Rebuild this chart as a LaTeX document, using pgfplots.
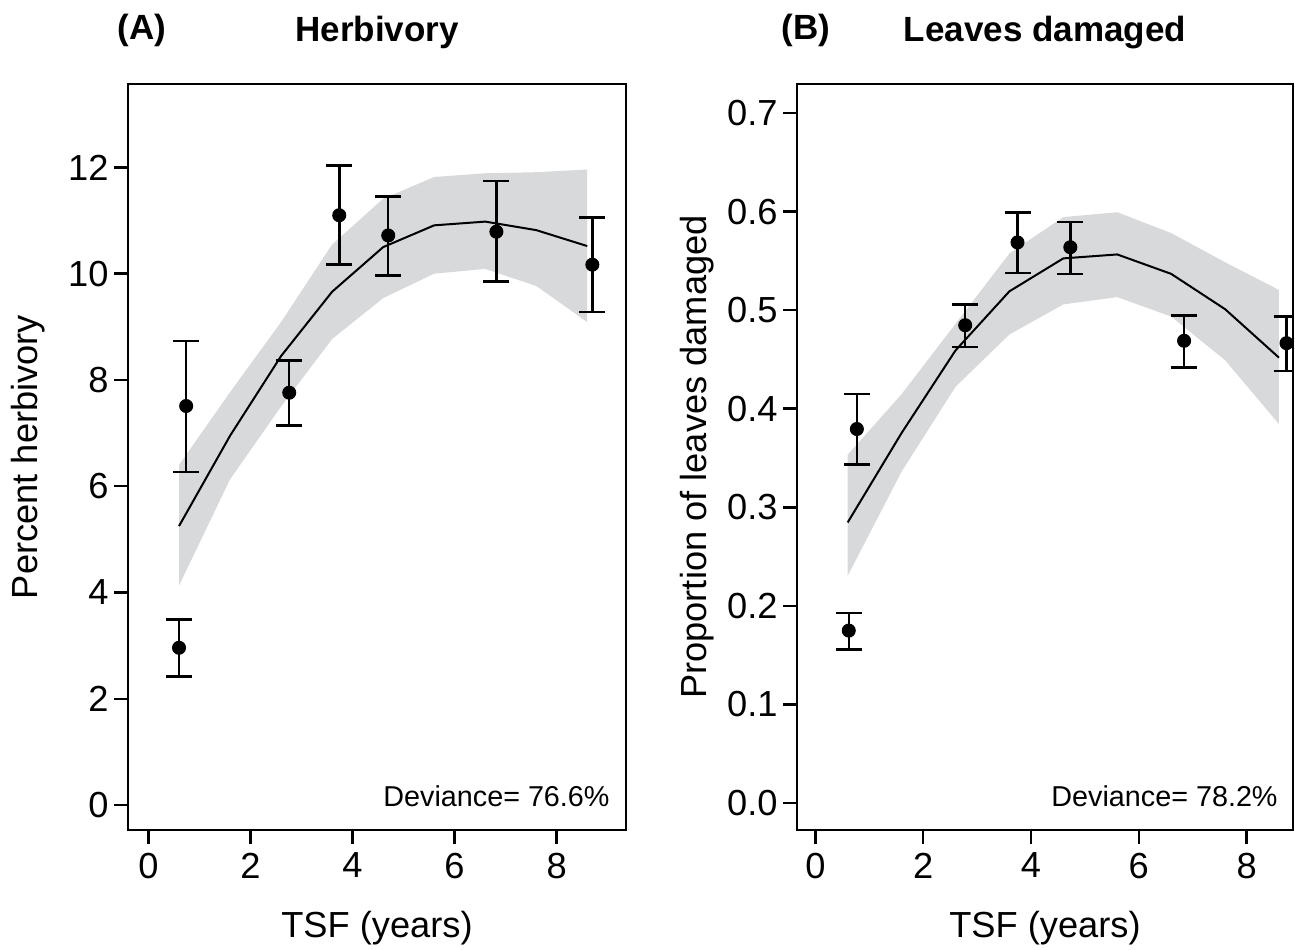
\documentclass[border=0pt]{standalone}
\usepackage{fontspec}
\setmainfont{Liberation Sans}
\usepackage{pgfplots}
\pgfplotsset{compat=1.18}
\definecolor{band}{RGB}{216,217,219}

\pgfplotsset{
  rstyle/.style={
    scale only axis,
    clip mode=individual,
    axis line style={line width=1pt},
    tick align=outside,
    major tick length=5.6pt,
    tick style={line width=1pt, black},
    xtick pos=left, ytick pos=left,
    tick label style={font=\fontsize{14.5}{17}\selectfont},
    yticklabel style={inner sep=2pt},
    label style={font=\fontsize{14.5}{17}\selectfont},
    /pgf/number format/assume math mode=true,
    xtick={0,2,4,6,8},
    xlabel={TSF (years)},
    xlabel style={at={(axis description cs:0.5,-0.1314)}, anchor=center},
  },
  ptstyle/.style={only marks, mark=*, mark size=2.6pt, black, mark options={fill=black},
    error bars/.cd, y dir=both, y explicit,
    error bar style={line width=1pt, black},
    error mark options={rotate=90, mark size=5.2pt, line width=1pt, black}},
}

% confidence band polygons (upper forward, lower backward)
\pgfplotstableread{
x    y
0.6  6.40
1.6  7.77
2.6  9.09
3.6  10.55
4.6  11.41
5.6  11.82
6.6  11.89
7.6  11.91
8.6  11.96
8.6  9.09
7.6  9.77
6.6  10.09
5.6  10.00
4.6  9.54
3.6  8.77
2.6  7.50
1.6  6.13
0.6  4.13
}\bandA
\pgfplotstableread{
x    y
0.6  5.25
1.6  6.95
2.6  8.45
3.6  9.66
4.6  10.50
5.6  10.91
6.6  10.98
7.6  10.82
8.6  10.52
}\fitA
\pgfplotstableread{
x     y      ep    em
0.60  2.96   0.53  0.54
0.74  7.51   1.22  1.24
2.76  7.76   0.61  0.62
3.74  11.10  0.94  0.93
4.70  10.72  0.73  0.75
6.82  10.79  0.95  0.94
8.70  10.17  0.89  0.89
}\ptsA
\pgfplotstableread{
x    y
0.6  0.3533
1.6  0.4148
2.6  0.4861
3.6  0.5575
4.6  0.5944
5.6  0.5993
6.6  0.5782
7.6  0.5486
8.6  0.5205
8.6  0.3844
7.6  0.4493
6.6  0.4935
5.6  0.5132
4.6  0.5058
3.6  0.4753
2.6  0.4222
1.6  0.3362
0.6  0.2305
}\bandB
\pgfplotstableread{
x    y
0.6  0.2846
1.6  0.3754
2.6  0.4591
3.6  0.5191
4.6  0.5525
5.6  0.5565
6.6  0.5368
7.6  0.5010
8.6  0.4518
}\fitB
\pgfplotstableread{
x     y       ep      em
0.62  0.1749  0.0177  0.0192
0.77  0.3794  0.0354  0.0359
2.78  0.4847  0.0211  0.0222
3.75  0.5687  0.0306  0.0309
4.73  0.5638  0.0256  0.0270
6.84  0.4689  0.0257  0.0270
8.74  0.4665  0.0270  0.0280
}\ptsB

\begin{document}
\begin{tikzpicture}

\begin{axis}[rstyle,
  at={(51.2pt,-332pt)}, anchor=south west,
  width=199.2pt, height=298.4pt,
  xmin=-0.40, xmax=9.36, ymin=-0.47, ymax=13.57,
  ytick={0,2,4,6,8,10,12},
  ylabel={Percent herbivory},
  ylabel style={at={(axis description cs:-0.2008,0.5)}, anchor=center},
]
\addplot[fill=band, draw=none] table {\bandA} -- cycle;
\addplot[black, line width=0.8pt] table {\fitA};
\addplot[ptstyle] table[x=x, y=y, y error plus=ep, y error minus=em] {\ptsA};
\node[anchor=base east, inner sep=0pt, font=\fontsize{11.5}{14}\selectfont] at (axis description cs:0.968,0.032) {Deviance= 76.6\%};
\node[anchor=base, font=\bfseries\fontsize{14}{17}\selectfont] at (axis description cs:0.5,1.057) {Herbivory};
\node[anchor=base, font=\bfseries\fontsize{14}{17}\selectfont] at (axis description cs:0.028,1.060) {(A)};
\end{axis}

\begin{axis}[rstyle,
  at={(318.8pt,-332pt)}, anchor=south west,
  width=198.4pt, height=298.4pt,
  xmin=-0.34, xmax=8.86, ymin=-0.0274, ymax=0.7294,
  ytick={0,0.1,0.2,0.3,0.4,0.5,0.6,0.7},
  yticklabel style={/pgf/number format/.cd, fixed, fixed zerofill, precision=1},
  ylabel={Proportion of leaves damaged},
  ylabel style={at={(axis description cs:-0.2016,0.5)}, anchor=center},
]
\addplot[fill=band, draw=none] table {\bandB} -- cycle;
\addplot[black, line width=0.8pt] table {\fitB};
\addplot[ptstyle] table[x=x, y=y, y error plus=ep, y error minus=em] {\ptsB};
\node[anchor=base east, inner sep=0pt, font=\fontsize{11.5}{14}\selectfont] at (axis description cs:0.970,0.032) {Deviance= 78.2\%};
\node[anchor=base, font=\bfseries\fontsize{14}{17}\selectfont] at (axis description cs:0.5,1.057) {Leaves damaged};
\node[anchor=base, font=\bfseries\fontsize{14}{17}\selectfont] at (axis description cs:0.018,1.060) {(B)};
\end{axis}

\pgfresetboundingbox
\path (0,0) rectangle (518pt,-379.6pt);
\end{tikzpicture}
\end{document}
